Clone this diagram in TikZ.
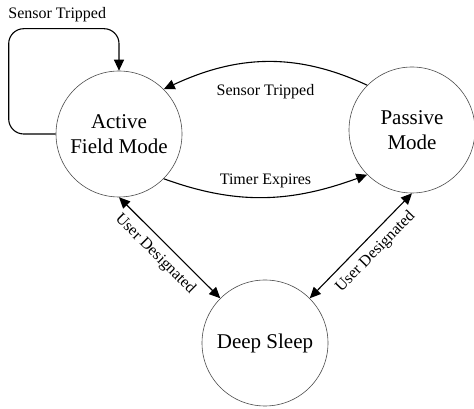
\documentclass[tikz,border=0pt]{standalone}
\usepackage{fontspec}
\setmainfont{Liberation Serif}
\usetikzlibrary{arrows.meta}

\begin{document}
\begin{tikzpicture}[x=1pt, y=1pt, >={Triangle[length=11pt, width=10pt]},
        state/.style={circle, draw=black!70, line width=0.6pt, minimum size=126pt, inner sep=0pt, align=center, font=\fontsize{21}{25}\selectfont},
        conn/.style={line width=1.1pt},
        lbl/.style={font=\fontsize{16}{19}\selectfont, inner sep=1pt}
    ]
    \useasboundingbox (0,0) rectangle (474,409);
    \node[state] (active) at (119,275) {Active\\Field Mode};
    \node[state] (passive) at (412,279) {Passive\\Mode};
    \node[state] (deep) at (265,66) {Deep Sleep};

    % self loop
    \draw[conn, ->, rounded corners=15pt] (active.west) -- ++(-47,0) |- ([yshift=42pt]active.north) node[lbl, pos=0.72, above=5.5pt] {Sensor Tripped} -- (active.north);

    \draw[conn, ->] (passive.135) to[out=155, in=25] node[lbl, midway, below=21pt] {Sensor Tripped} (active.45);
    \draw[conn, ->] (active.-45) to[out=-20, in=200] node[lbl, midway, above=7.5pt] {Timer Expires} (passive.-135);

    \draw[conn, <->] (active.-90) -- node[lbl, sloped, pos=0.46, below=6pt] {User Designated} (deep.135);
    \draw[conn, <->] (deep.45) -- node[lbl, sloped, pos=0.54, below=6pt] {User Designated} (passive.-90);
\end{tikzpicture}
\end{document}
